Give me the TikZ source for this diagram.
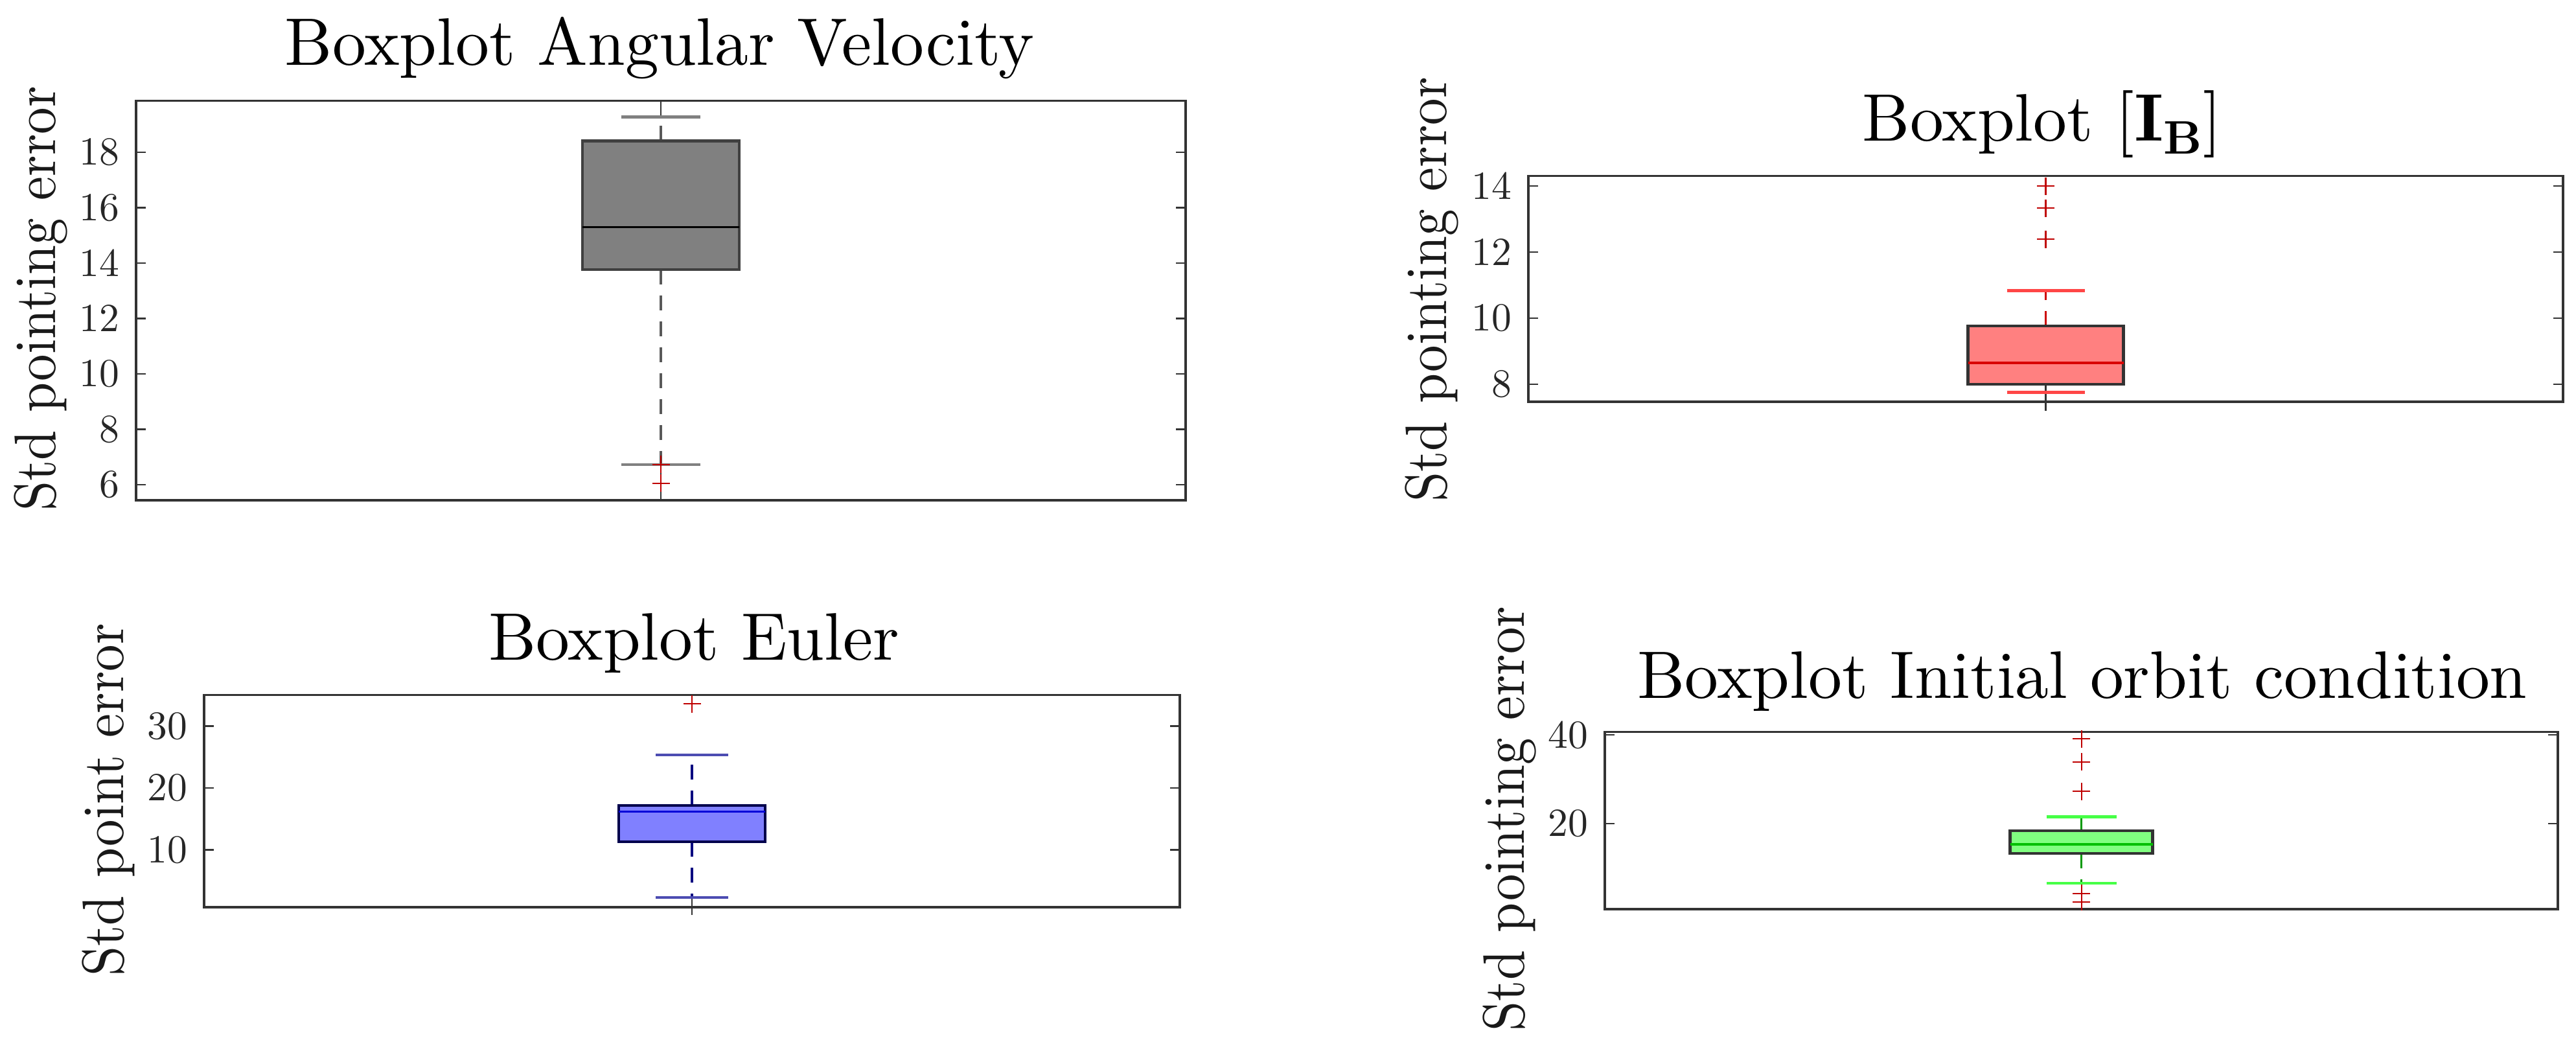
\documentclass[tikz,border=0pt]{standalone}
\usepackage{fontspec}
\setmainfont{lmroman10-regular.otf}[BoldFont=lmroman10-bold.otf]
\usepackage{tikz}
\definecolor{boxgray}{HTML}{808080}
\definecolor{boxred}{HTML}{FF8080}
\definecolor{boxblue}{HTML}{8080FF}
\definecolor{boxgreen}{HTML}{80FF80}
\tikzset{
  axbox/.style={draw=black!80, line width=0.9pt},
  ytick/.style={draw=black!80, line width=0.7pt},
  ticklab/.style={anchor=east, inner sep=0pt, text=black!85, font=\fontsize{17.5}{20}\selectfont},
  ttl/.style={anchor=base, inner sep=0pt, font=\fontsize{29.5}{34}\selectfont},
  ylab/.style={anchor=base, rotate=90, inner sep=0pt, text=black!90, font=\fontsize{23.6}{28}\selectfont},
  whisk/.style={line width=1.1pt, dash pattern=on 0.23cm off 0.17cm},
  capline/.style={line width=1.3pt},
  midline/.style={line width=1pt},
  outl/.style={line width=0.6pt, draw=red!75!black},
}
\def\outlier(#1,#2){\draw[outl] (#1,#2) ++(-0.135cm,0pt) -- ++(0.27cm,0pt) (#1,#2) ++(0pt,-0.135cm) -- ++(0pt,0.27cm);}

\begin{document}
\begin{tikzpicture}
			%%%%% START %%%%%
			\useasboundingbox (0,0) rectangle (39.76,16.24);
			
			%%%%% angular velocity
			\node[ttl] (ttl1) at (10.18, 15.23) {Boxplot Angular Velocity};
			\node[ylab] (ylab1) at (0.85, 11.63) {\scalebox{1}[1.09]{Std pointing error}};
			\begin{scope}[yshift=6.195cm, y=0.4275cm]
				\draw[axbox] (2.10, 5.44) rectangle (18.30, 19.85);
				\foreach \v in {6,8,...,18} {
					\draw[ytick] (2.10, \v) -- ++(0.15cm, 0pt);
					\draw[ytick] (18.30, \v) -- ++(-0.15cm, 0pt);
					\node[ticklab] (t1-\v) at (1.85, \v) {\v};
				}
				\draw[line width=0.6pt, black!80] (10.20, 19.85) -- (10.20, 19.28);
				\draw[line width=0.6pt, black!80] (10.20, 5.44) -- (10.20, 7.0);
				\draw[whisk, draw=black!65] (10.20, 18.41) -- (10.20, 19.28);
				\draw[whisk, draw=black!65] (10.20, 13.77) -- (10.20, 6.73);
				\draw[capline, draw=boxgray] (9.59, 19.28) -- (10.81, 19.28);
				\draw[capline, draw=boxgray] (9.59, 6.73) -- (10.81, 6.73);
				\draw[fill=boxgray, draw=black!75, line width=1.2pt] (8.99, 13.77) rectangle (11.41, 18.41);
				\draw[midline, black] (8.99, 15.3) -- (11.41, 15.3);
				\outlier(10.20, 6.73)
				\outlier(10.20, 6.05)
			\end{scope}
			
			%%%%% inertia
			\node[ttl] (ttl2) at (31.52, 14.06) {Boxplot [\textbf{I}\textsubscript{\textbf{B}}]};
			\node[ylab] (ylab2) at (22.32, 11.77) {\scalebox{1}[1.09]{Std pointing error}};
			\begin{scope}[yshift=6.23cm, y=0.51cm]
				\draw[axbox] (23.59, 7.47) rectangle (39.56, 14.31);
				\foreach \v in {8,10,12,14} {
					\draw[ytick] (23.59, \v) -- ++(0.15cm, 0pt);
					\draw[ytick] (39.56, \v) -- ++(-0.15cm, 0pt);
					\node[ticklab] (t2-\v) at (23.34, \v) {\v};
				}
				\draw[line width=0.6pt, black!80] (31.575, 8.0) -- (31.575, 7.2);
				\draw[whisk, draw=red!80!black] (31.575, 9.76) -- (31.575, 10.83);
				\draw[capline, draw=red!45!boxred] (30.975, 10.83) -- (32.175, 10.83);
				\draw[capline, draw=red!45!boxred] (30.975, 7.76) -- (32.175, 7.76);
				\draw[fill=boxred, draw=black!80, line width=1.2pt] (30.375, 8.0) rectangle (32.775, 9.76);
				\draw[midline, red!85!black] (30.375, 8.65) -- (32.775, 8.65);
				\foreach \v in {14.0,13.33,12.39} {\outlier(31.575, \v)}
			\end{scope}
			
			%%%%% euler
			\node[ttl] (ttl3) at (10.71, 6.06) {Boxplot Euler};
			\node[ylab] (ylab3) at (1.90, 3.895) {\scalebox{1}[1.09]{Std point error}};
			\begin{scope}[yshift=2.17cm, y=0.0955cm]
				\draw[axbox] (3.15, 0.73) rectangle (18.21, 35.0);
				\foreach \v in {10,20,30} {
					\draw[ytick] (3.15, \v) -- ++(0.15cm, 0pt);
					\draw[ytick] (18.21, \v) -- ++(-0.15cm, 0pt);
					\node[ticklab] (t3-\v) at (2.90, \v) {\v};
				}
				\draw[line width=0.6pt, black!80] (10.68, 2.3) -- (10.68, -0.55);
				\draw[whisk, draw=blue!50!black] (10.68, 17.2) -- (10.68, 25.35);
				\draw[whisk, draw=blue!50!black] (10.68, 11.3) -- (10.68, 2.3);
				\draw[capline, draw=blue!40!gray] (10.12, 25.35) -- (11.24, 25.35);
				\draw[capline, draw=blue!40!gray] (10.12, 2.3) -- (11.24, 2.3);
				\draw[fill=boxblue, draw=blue!30!black, line width=1.2pt] (9.55, 11.3) rectangle (11.81, 17.2);
				\draw[midline, blue!85!black] (9.55, 16.2) -- (11.81, 16.2);
				\outlier(10.68, 33.6)
			\end{scope}
			
			%%%%% initial orbit
			\node[ttl] (ttl4) at (32.14, 5.47) {Boxplot Initial orbit condition};
			\node[ylab] (ylab4) at (23.52, 3.605) {\scalebox{1}[1.09]{Std pointing error}};
			\begin{scope}[yshift=2.16cm, y=0.0685cm]
				\draw[axbox] (24.77, 0.73) rectangle (39.48, 40.7);
				\foreach \v in {20,40} {
					\draw[ytick] (24.77, \v) -- ++(0.15cm, 0pt);
					\draw[ytick] (39.48, \v) -- ++(-0.15cm, 0pt);
					\node[ticklab] (t4-\v) at (24.52, \v) {\v};
				}
				\draw[line width=0.6pt, red!60!black] (32.125, 6.6) -- (32.125, 0.4);
				\draw[whisk, draw=green!60!black] (32.125, 18.4) -- (32.125, 21.5);
				\draw[whisk, draw=green!60!black] (32.125, 13.3) -- (32.125, 6.6);
				\draw[capline, draw=green!45!boxgreen] (31.585, 21.5) -- (32.665, 21.5);
				\draw[capline, draw=green!45!boxgreen] (31.585, 6.6) -- (32.665, 6.6);
				\draw[fill=boxgreen, draw=black!80, line width=1.2pt] (31.025, 13.3) rectangle (33.225, 18.4);
				\draw[midline, green!75!black] (31.025, 15.3) -- (33.225, 15.3);
				\foreach \v in {39.1,33.9,27.3,4.2,2.4} {\outlier(32.125, \v)}
			\end{scope}
			
			%%%%% END %%%%%
\end{tikzpicture}
\end{document}
